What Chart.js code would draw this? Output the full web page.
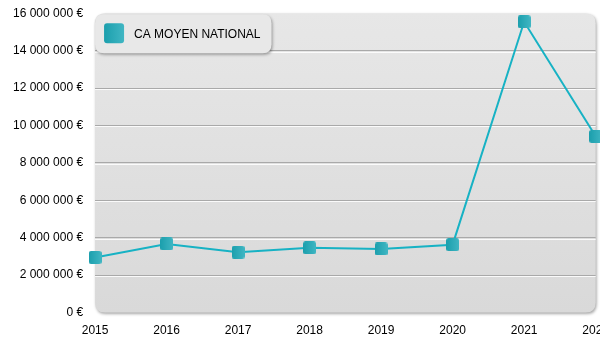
<!DOCTYPE html>
<html>
<head>
<meta charset="utf-8">
<script src="https://cdn.jsdelivr.net/npm/chart.js@4/dist/chart.umd.min.js"></script>
<style>
  html, body { margin:0; padding:0; background:#fff; overflow:hidden; }
  #wrap { width:620px; height:356px; margin-top:-6px; }
</style>
</head>
<body>
<div id="wrap"><canvas id="chart" width="620" height="356"></canvas></div>
<script>
const years = ['2015','2016','2017','2018','2019','2020','2021','2022'];
const caMoyen = [2950000, 3670000, 3230000, 3460000, 3400000, 3630000, 15540000, 9420000];
const seriesLabel = 'CA MOYEN NATIONAL';
const yMax = 16000000;
const yStep = 2000000;

const FONT = '"Liberation Sans", Arial, sans-serif';

function rrect(ctx, x, y, w, h, r){
  ctx.beginPath();
  ctx.moveTo(x + r, y);
  ctx.lineTo(x + w - r, y);
  ctx.quadraticCurveTo(x + w, y, x + w, y + r);
  ctx.lineTo(x + w, y + h - r);
  ctx.quadraticCurveTo(x + w, y + h, x + w - r, y + h);
  ctx.lineTo(x + r, y + h);
  ctx.quadraticCurveTo(x, y + h, x, y + h - r);
  ctx.lineTo(x, y + r);
  ctx.quadraticCurveTo(x, y, x + r, y);
  ctx.closePath();
}

function tealSquare(ctx, x, y, s, r){
  const g = ctx.createLinearGradient(x, 0, x + s, 0);
  g.addColorStop(0, '#1b9fad');
  g.addColorStop(1, '#40b6c3');
  rrect(ctx, x, y, s, s, r);
  ctx.fillStyle = g;
  ctx.fill();
}

// marker image
const marker = document.createElement('canvas');
marker.width = 13; marker.height = 13;
tealSquare(marker.getContext('2d'), 0, 0, 13, 2.5);

function fmtEur(n){ return String(n).replace(/\B(?=(\d{3})+(?!\d))/g, ' ') + ' €'; }

const panelPlugin = {
  id: 'panel',
  beforeDraw(chart){
    const {ctx, chartArea:{left, top, right, bottom}} = chart;
    ctx.save();
    ctx.shadowColor = 'rgba(0,0,0,0.35)';
    ctx.shadowBlur = 3;
    ctx.shadowOffsetX = 1;
    ctx.shadowOffsetY = 1.5;
    const g = ctx.createLinearGradient(0, top, 0, bottom);
    g.addColorStop(0, '#e7e7e7');
    g.addColorStop(1, '#d9d9d9');
    rrect(ctx, left, top, right - left, bottom - top, 10);
    ctx.fillStyle = g;
    ctx.fill();
    ctx.restore();
  },
  beforeDatasetsDraw(chart){
    const {ctx, chartArea:{left, right}} = chart;
    const ys = chart.scales.y;
    ctx.save();
    ctx.strokeStyle = 'rgba(255,255,255,0.85)';
    ctx.lineWidth = 1;
    ys.ticks.forEach((t, i) => {
      if (i === 0 || i === ys.ticks.length - 1) return;
      const y = Math.round(ys.getPixelForValue(t.value)) + 1.5;
      ctx.beginPath(); ctx.moveTo(left, y); ctx.lineTo(right, y); ctx.stroke();
    });
    ctx.restore();
  },
  afterDraw(chart){
    const {ctx, chartArea:{left, top}} = chart;
    ctx.save();
    ctx.font = '12px ' + FONT;
    const tw = ctx.measureText(seriesLabel).width;
    const x = left, y = top + 1, w = 39 + tw + 11, h = 39;
    ctx.shadowColor = 'rgba(0,0,0,0.35)';
    ctx.shadowBlur = 3;
    ctx.shadowOffsetX = 1;
    ctx.shadowOffsetY = 1.5;
    rrect(ctx, x, y, w, h, 9);
    ctx.fillStyle = '#e8e8e8';
    ctx.fill();
    ctx.shadowColor = 'transparent';
    tealSquare(ctx, x + 9, y + 9, 20, 3);
    ctx.fillStyle = '#000';
    ctx.textBaseline = 'middle';
    ctx.fillText(seriesLabel, x + 39, y + 20);
    ctx.restore();
  }
};

new Chart(document.getElementById('chart'), {
  type: 'line',
  data: {
    labels: years,
    datasets: [{
      label: seriesLabel,
      data: caMoyen,
      borderColor: '#17b2c4',
      borderWidth: 2,
      tension: 0,
      pointStyle: marker,
      pointRadius: 7,
      pointHoverRadius: 7
    }]
  },
  options: {
    responsive: false,
    animation: false,
    layout: { padding: { left: 1, top: 0, right: 0, bottom: 1 } },
    plugins: { legend: { display: false }, tooltip: { enabled: false } },
    scales: {
      x: {
        grid: { display: false, drawTicks: false },
        border: { display: false },
        ticks: { color: '#000', padding: 11, font: { family: FONT, size: 12 }, maxRotation: 0 }
      },
      y: {
        min: 0, max: yMax,
        grid: {
          drawTicks: false,
          color: (c) => (c.index === 0 || c.tick.value === yMax) ? 'rgba(0,0,0,0)' : '#a9a9a9'
        },
        border: { display: false },
        ticks: { stepSize: yStep, color: '#000', padding: 12, font: { family: FONT, size: 12 }, callback: (v) => fmtEur(v) }
      }
    }
  },
  plugins: [panelPlugin]
});
</script>
</body>
</html>
